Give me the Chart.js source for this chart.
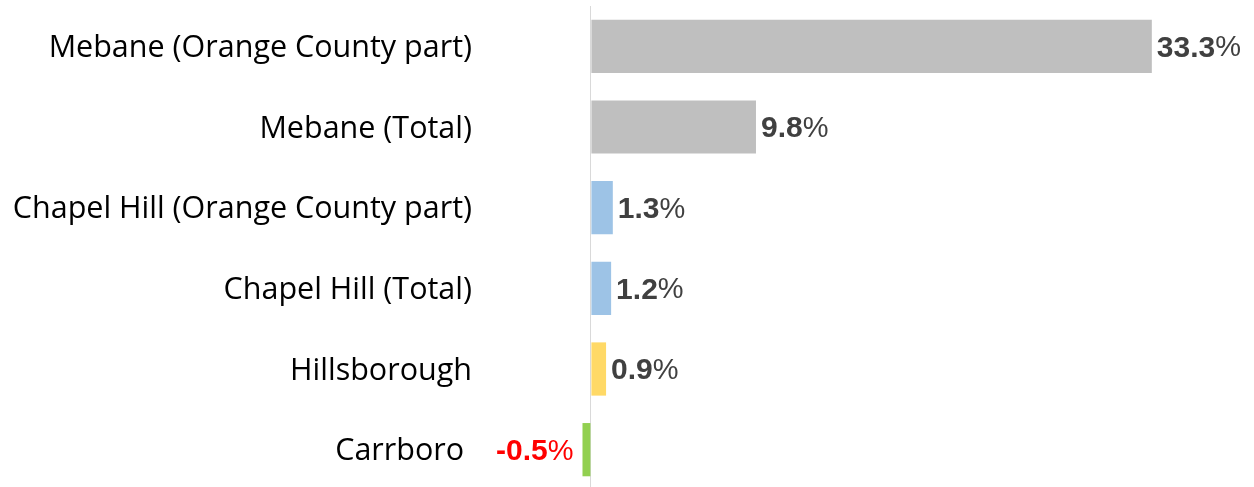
<!DOCTYPE html>
<html>
<head>
<meta charset="utf-8">
<script src="https://cdn.jsdelivr.net/npm/chart.js@4"></script>
<style>
  html, body { margin: 0; padding: 0; background: #fff; overflow: hidden; }
  #wrap { width: 1254px; height: 487px; overflow: hidden; }
</style>
</head>
<body>
<div id="wrap"><canvas id="growthChart" width="1254" height="491"></canvas></div>
<script>
// 地名
const places = [
  "Mebane (Orange County part)",
  "Mebane (Total)",
  "Chapel Hill (Orange County part)",
  "Chapel Hill (Total)",
  "Hillsborough",
  "Carrboro"
];

// 增长率 (%)
const growth = [33.3, 9.8, 1.3, 1.2, 0.9, -0.5];

// 颜色
const barColors = ["#bfbfbf", "#bfbfbf", "#9dc3e6", "#9dc3e6", "#ffd966", "#92d050"];

const labelFont = "'Liberation Sans', Arial, sans-serif";

// 数值标签
const valueLabels = {
  id: "valueLabels",
  afterDatasetsDraw(chart) {
    const ctx = chart.ctx;
    const meta = chart.getDatasetMeta(0);
    ctx.save();
    ctx.textBaseline = "middle";
    ctx.textAlign = "left";
    meta.data.forEach(function (bar, i) {
      const v = growth[i];
      const num = v.toFixed(1);
      const y = bar.y + 2;
      ctx.font = "bold 30px " + labelFont;
      const wNum = ctx.measureText(num).width;
      ctx.font = "29px " + labelFont;
      const wPct = ctx.measureText("%").width;
      let x;
      if (v >= 0) {
        x = bar.x + 5;
        ctx.fillStyle = "#404040";
      } else {
        x = bar.x - 9 - wNum - wPct;
        ctx.fillStyle = "#ff0000";
      }
      ctx.font = "bold 30px " + labelFont;
      ctx.fillText(num, x, y);
      ctx.font = "29px " + labelFont;
      ctx.fillText("%", x + wNum, y);
    });
    ctx.restore();
  }
};

new Chart(document.getElementById("growthChart"), {
  type: "bar",
  data: {
    labels: places,
    datasets: [
      {
        data: growth,
        backgroundColor: barColors,
        borderWidth: 0,
        categoryPercentage: 0.66,
        barPercentage: 1
      }
    ]
  },
  options: {
    indexAxis: "y",
    responsive: false,
    animation: false,
    layout: { padding: { top: 6, right: 23, bottom: 1, left: 0 } },
    plugins: {
      legend: { display: false },
      tooltip: { enabled: false }
    },
    scales: {
      x: {
        min: -7,
        max: 38,
        ticks: { display: false },
        border: { display: false },
        grid: {
          drawTicks: false,
          lineWidth: 1,
          color: function (c) {
            return c.tick && c.tick.value === 0 ? "#d9d9d9" : "rgba(0,0,0,0)";
          }
        },
        afterBuildTicks: function (axis) {
          axis.ticks = [{ value: 0 }];
        },
        afterFit: function (axis) {
          axis.height = 0;
        }
      },
      y: {
        border: { display: false },
        grid: { display: false, drawTicks: false },
        ticks: {
          color: "#000",
          padding: 1,
          labelOffset: 2,
          font: { family: "'Open Sans', 'Noto Sans', sans-serif", size: 30.5 },
          // 负值的标签往左让一点
          callback: function (value, index) {
            return growth[index] < 0 ? places[index] + " " : places[index];
          }
        },
        afterFit: function (axis) {
          axis.width = 473;
          axis.paddingTop = 0;
          axis.paddingBottom = 0;
        }
      }
    }
  },
  plugins: [valueLabels]
});
</script>
</body>
</html>
